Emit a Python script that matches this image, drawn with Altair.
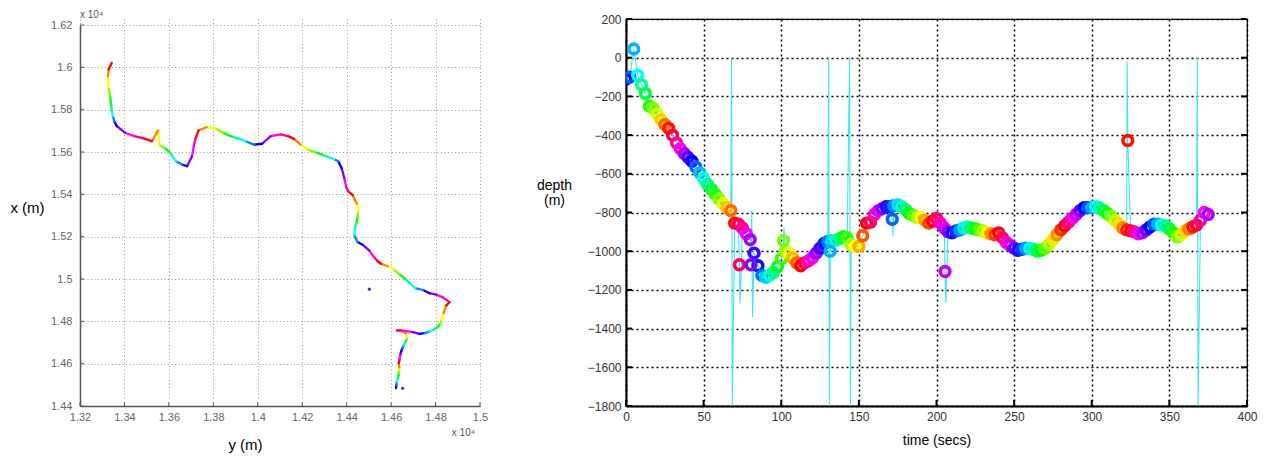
import altair as alt
import pandas as pd

# ---------------- Left panel: horizontal track (metres) ----------------
# travel order from the start (bottom) to the end (top)
track_y = [14622, 14624, 14625, 14630, 14633, 14634, 14637, 14637, 14634, 14637, 14639, 14642,
           14645, 14651, 14657, 14663, 14667, 14670, 14672, 14667, 14645, 14627, 14660, 14698,
           14728, 14750, 14773, 14792, 14810, 14821, 14827, 14836, 14848, 14863, 14833, 14803,
           14773, 14743, 14708, 14683, 14660, 14637, 14612, 14585, 14555, 14537, 14521, 14502,
           14472, 14449, 14434, 14437, 14445, 14449, 14452, 14446, 14427, 14407, 14397, 14389,
           14377, 14362, 14344, 14321, 14287, 14254, 14223, 14193, 14163, 14136, 14103, 14058,
           14020, 13983, 13945, 13910, 13877, 13844, 13810, 13769, 13734, 13721, 13712, 13704,
           13682, 13659, 13632, 13614, 13599, 13579, 13558, 13551, 13524, 13486, 13441, 13403,
           13366, 13354, 13348, 13343, 13340, 13335, 13329, 13326, 13329, 13343]
track_x = [14484, 14500, 14515, 14531, 14544, 14556, 14571, 14583, 14602, 14615, 14629, 14645,
           14657, 14673, 14689, 14698, 14708, 14717, 14728, 14744, 14757, 14757, 14755, 14749,
           14741, 14744, 14752, 14760, 14773, 14787, 14807, 14839, 14875, 14891, 14913, 14926,
           14933, 14948, 14957, 14981, 15004, 15023, 15047, 15060, 15072, 15086, 15107, 15134,
           15162, 15175, 15209, 15241, 15269, 15296, 15320, 15356, 15396, 15414, 15438, 15478,
           15525, 15556, 15566, 15575, 15588, 15601, 15612, 15635, 15662, 15675, 15683, 15675,
           15639, 15635, 15651, 15664, 15675, 15691, 15711, 15717, 15702, 15667, 15627, 15580,
           15533, 15541, 15556, 15583, 15604, 15620, 15632, 15702, 15651, 15664, 15676, 15691,
           15722, 15746, 15769, 15793, 15825, 15864, 15907, 15959, 15990, 16022]
stray_y = [14502, 14652]
stray_x = [14952, 14484]
left_xticks = [13200, 13400, 13600, 13800, 14000, 14200, 14400, 14600, 14800, 15000]
left_yticks = [14400, 14600, 14800, 15000, 15200, 15400, 15600, 15800, 16000, 16200]

# ---------------- Right panel: depth vs time ----------------
time_s = [0, 2.5, 5, 7.5, 10, 12.5, 15, 17.5, 20, 22.5,
          25, 27.5, 30, 32.5, 35, 37.5, 40, 42.5, 45, 47.5,
          50, 52.5, 55, 57.5, 60, 62.5, 65, 67.5, 70, 72.5,
          75, 77.5, 80, 82.5, 85, 87.5, 90, 92.5, 95, 97.5,
          100, 102.5, 105, 107.5, 110, 112.5, 115, 117.5, 120, 122.5,
          125, 127.5, 130, 132.5, 135, 137.5, 140, 142.5, 145, 147.5,
          150, 152.5, 155, 157.5, 160, 162.5, 165, 167.5, 170, 172.5,
          175, 177.5, 180, 182.5, 185, 187.5, 190, 192.5, 195, 197.5,
          200, 202.5, 205, 207.5, 210, 212.5, 215, 217.5, 220, 222.5,
          225, 227.5, 230, 232.5, 235, 237.5, 240, 242.5, 245, 247.5,
          250, 252.5, 255, 257.5, 260, 262.5, 265, 267.5, 270, 272.5,
          275, 277.5, 280, 282.5, 285, 287.5, 290, 292.5, 295, 297.5,
          300, 302.5, 305, 307.5, 310, 312.5, 315, 317.5, 320, 322.5,
          325, 327.5, 330, 332.5, 335, 337.5, 340, 342.5, 345, 347.5,
          350, 352.5, 355, 357.5, 360, 362.5, 365, 367.5, 370, 372.5,
          375]
depth_m = [-110, -100, 45, -90, -140, -185, -250, -262, -290, -320,
           -345, -365, -400, -440, -470, -495, -515, -535, -565, -595,
           -625, -655, -680, -705, -730, -755, -775, -790, -855, -860,
           -880, -910, -940, -1010, -1075, -1125, -1135, -1125, -1110, -1080,
           -1040, -1000, -1010, -1035, -1060, -1075, -1060, -1050, -1035, -1010,
           -985, -960, -950, -945, -945, -935, -925, -930, -965, -975,
           -975, -920, -855, -850, -810, -790, -780, -770, -770, -765,
           -760, -770, -785, -805, -815, -825, -825, -840, -855, -845,
           -830, -855, -880, -900, -905, -895, -890, -880, -875, -880,
           -885, -890, -895, -905, -910, -915, -905, -930, -955, -970,
           -985, -995, -990, -985, -985, -990, -1000, -995, -985, -965,
           -940, -915, -890, -870, -850, -830, -810, -790, -775, -775,
           -775, -770, -775, -790, -805, -820, -840, -860, -880, -890,
           -895, -900, -910, -905, -890, -875, -860, -860, -865, -870,
           -885, -905, -925, -915, -895, -885, -875, -865, -840, -800,
           -810]
outlier_t = [73, 80.5, 101.5, 131.5, 171.5, 205.5, 323.2]
outlier_d = [-1070, -1070, -945, -1000, -835, -1105, -428]
spike_t = [68, 68.5, 73.5, 81, 81.5, 101.8, 130.5, 131, 144, 144.6, 172, 206, 322.8, 368, 368.5]
spike_d = [0, -1800, -1270, -790, -1340, -880, 0, -1800, 0, -1800, -920, -1266, -20, 0, -1800]
time_ticks = [0, 50, 100, 150, 200, 250, 300, 350, 400]
depth_ticks = [-1800, -1600, -1400, -1200, -1000, -800, -600, -400, -200, 0, 200]

FONT = "Liberation Sans"


def hsl(h):
    return "hsl(%.1f,100%%,50%%)" % (h % 360)


# ---------- left panel ----------
LW, LH = 400, 387
LTOP = 6  # plot of the left panel starts a little lower than the right one
n = len(track_y)
left = pd.DataFrame({"ym": track_y, "xm": track_x})
left["ym2"] = left["ym"].shift(-1)
left["xm2"] = left["xm"].shift(-1)
left["col"] = [hsl(240 - 30 * i) for i in range(n)]
seg = left.dropna()

xs_l = alt.Scale(domain=[13200, 15000], nice=False, zero=False)
ys_l = alt.Scale(domain=[14400, 16200], nice=False, zero=False, range=[LH, LTOP])
lab = "format(datum.value / 10000, '.2~f')"

x_axis_l = alt.Axis(values=left_xticks, labelExpr=lab, title="y (m)", titleX=165, titleY=38,
                    titleAlign="center", titleBaseline="middle", titleFontSize=15,
                    labelFontSize=11, labelColor="#666", labelPadding=5, labelFlush=False,
                    ticks=False, domainColor="#555", domainWidth=1.5, grid=True,
                    gridColor="#999", gridDash=[1, 2.5], gridWidth=1)
y_axis_l = alt.Axis(values=left_yticks, labelExpr=lab, title="x (m)", titleAngle=0,
                    titleX=-53, titleY=188, titleAlign="center", titleBaseline="middle",
                    titleFontSize=15, labelFontSize=11, labelColor="#666", labelPadding=8,
                    labelFlush=False, ticks=False, domainColor="#555", domainWidth=1.5,
                    grid=True, gridColor="#999", gridDash=[1, 2.5], gridWidth=1)


def LX(f):
    return alt.X(f, scale=xs_l, axis=x_axis_l)


def LY(f):
    return alt.Y(f, scale=ys_l, axis=y_axis_l)


track = alt.Chart(seg).mark_rule(strokeWidth=2.3, strokeCap="round").encode(
    x=LX("ym:Q"), y=LY("xm:Q"),
    x2="ym2:Q", y2="xm2:Q",
    color=alt.Color("col:N", scale=None),
)
stray = alt.Chart(pd.DataFrame({"ym": stray_y, "xm": stray_x})).mark_circle(
    size=10, color="#3030d0", opacity=1).encode(x=LX("ym:Q"), y=LY("xm:Q"))
ltick_y = alt.Chart(pd.DataFrame({"xm": left_yticks})).mark_rule(color="#555", strokeWidth=1).encode(
    y=LY("xm:Q"), x=alt.value(0), x2=alt.value(4))
ltick_x = alt.Chart(pd.DataFrame({"ym": left_xticks})).mark_rule(color="#555", strokeWidth=1).encode(
    x=LX("ym:Q"), y=alt.value(LH), y2=alt.value(LH - 4))
mult = pd.DataFrame({"s": ["x 10\u2074"]})
mult_top = alt.Chart(mult).mark_text(align="left", baseline="bottom", fontSize=10,
                                     color="#555", font=FONT).encode(
    x=alt.value(0), y=alt.value(LTOP - 5), text="s:N")
mult_bot = alt.Chart(mult).mark_text(align="right", baseline="middle", fontSize=10,
                                     color="#555", font=FONT).encode(
    x=alt.value(LW - 5), y=alt.value(LH + 27), text="s:N")

left_chart = alt.layer(track, ltick_y, ltick_x, stray, mult_top, mult_bot).properties(
    width=LW, height=LH)

# ---------- right panel ----------
RW, RH = 621, 387
main = pd.DataFrame({"t": time_s, "d": depth_m})
outl = pd.DataFrame({"t": outlier_t, "d": outlier_d})
pts = pd.concat([main, outl], ignore_index=True)
pts["col"] = [hsl(240 - 360 * t / 42.2) for t in pts["t"]]
line = pd.concat([main, outl, pd.DataFrame({"t": spike_t, "d": spike_d})],
                 ignore_index=True).sort_values("t")

xs_r = alt.Scale(domain=[0, 400], nice=False, zero=False)
ys_r = alt.Scale(domain=[-1800, 200], nice=False, zero=False)

x_axis_r = alt.Axis(values=time_ticks, title="time (secs)", titleY=34, titleBaseline="middle",
                    titleFontSize=14, labelFontSize=12, labelColor="#333", labelPadding=5,
                    labelFlush=False, ticks=False, domainColor="#000", domainWidth=2, grid=True,
                    gridColor="#000", gridDash=[2, 3], gridWidth=1.5)
y_axis_r = alt.Axis(values=depth_ticks, format="d", title=["depth", "(m)"], titleAngle=0,
                    titleX=-72, titleY=166, titleAlign="center", titleBaseline="middle",
                    titleFontSize=14, titleLineHeight=15, labelFontSize=12, labelColor="#333",
                    labelPadding=5, labelFlush=False, ticks=False, domainColor="#000",
                    domainWidth=2, grid=True, gridColor="#000", gridDash=[2, 3], gridWidth=1.5)


def RX(f):
    return alt.X(f, scale=xs_r, axis=x_axis_r)


def RY(f):
    return alt.Y(f, scale=ys_r, axis=y_axis_r)


cyan = alt.Chart(line).mark_line(color="#3fe4f2", strokeWidth=1.1, clip=True).encode(
    x=RX("t:Q"), y=RY("d:Q"), order="t:Q")
rings = alt.Chart(pts).mark_point(shape="circle", filled=False, size=95, strokeWidth=3.6,
                                  opacity=1, clip=True).encode(
    x=RX("t:Q"), y=RY("d:Q"), color=alt.Color("col:N", scale=None))
rt_l = alt.Chart(pd.DataFrame({"d": depth_ticks})).mark_rule(color="#000", strokeWidth=2).encode(
    y=RY("d:Q"), x=alt.value(0), x2=alt.value(6))
rt_r = alt.Chart(pd.DataFrame({"d": depth_ticks})).mark_rule(color="#000", strokeWidth=2).encode(
    y=RY("d:Q"), x=alt.value(RW - 6), x2=alt.value(RW))
rt_b = alt.Chart(pd.DataFrame({"t": time_ticks})).mark_rule(color="#000", strokeWidth=2).encode(
    x=RX("t:Q"), y=alt.value(RH - 6), y2=alt.value(RH))
spacer = alt.Chart(pd.DataFrame({"s": ["."]})).mark_text(opacity=0, fontSize=2, baseline="top").encode(
    x=alt.value(0), y=alt.value(-10), text="s:N")

right_chart = alt.layer(cyan, rings, rt_l, rt_r, rt_b, spacer).properties(
    width=RW, height=RH, view=alt.ViewBackground(stroke="#000", strokeWidth=1.2))

chart = alt.hconcat(left_chart, right_chart, spacing=46).properties(
    padding={"left": 1, "top": 0, "right": 0, "bottom": 0}
).configure(font=FONT).configure_axis(
    labelFont=FONT, titleFont=FONT, titleFontWeight="normal", titleColor="#000"
).configure_view(stroke="transparent")

chart.save("out.html", embed_options={"renderer": "svg", "actions": False})
